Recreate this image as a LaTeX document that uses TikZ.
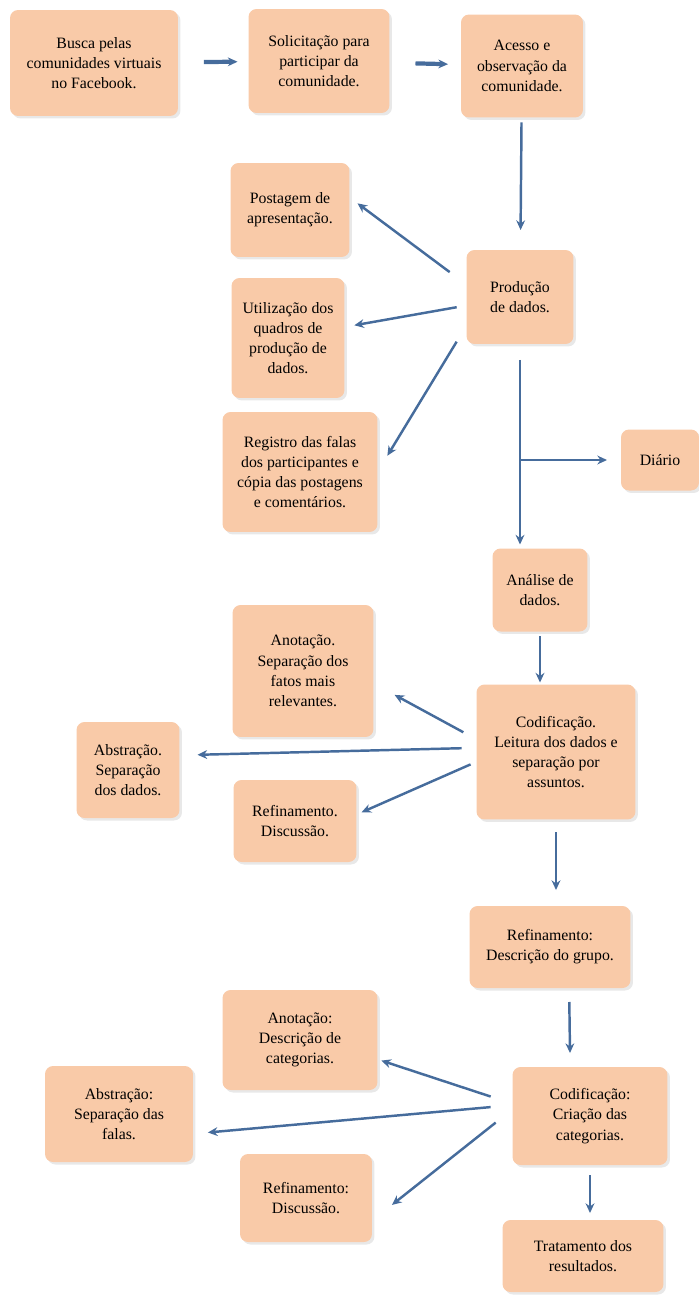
\documentclass[tikz,border=0pt]{standalone}
\usepackage{fontspec}
\setmainfont{Liberation Serif}
\usetikzlibrary{arrows.meta,shadows}
\definecolor{boxfill}{RGB}{249,202,168}
\definecolor{linkblue}{RGB}{70,108,156}
\begin{document}
\begin{tikzpicture}[x=0.02cm,y=-0.02cm,
  stage/.style={fill=boxfill, rounded corners=0.16cm, align=center, outer sep=0pt, inner sep=2pt,
    font=\fontsize{9}{11.5}\selectfont,
    drop shadow={opacity=0.18, shadow xshift=0.05cm, shadow yshift=-0.05cm}},
  link/.style={draw=linkblue, line width=1.4pt, -{Stealth[length=5.5pt,width=5pt]}},
  biglink/.style={link, line width=2.4pt}]
\useasboundingbox (0,0) rectangle (699,1298);
\node[stage, minimum width=3.36cm, minimum height=2.12cm] (st1) at (94,63){Busca pelas\\comunidades virtuais\\no Facebook.};
\node[stage, minimum width=2.82cm, minimum height=2.08cm] (st2) at (319,61){Solicitação para\\participar da\\comunidade.};
\draw[biglink, shorten <=0.52cm, shorten >=0.22cm](st1) -- (st2);
\node[stage, minimum width=2.44cm, minimum height=2.06cm] (st3) at (522,66){Acesso e\\observação da\\comunidade.};
\draw[biglink, shorten <=0.52cm, shorten >=0.26cm](st2) -- (st3);
\node[stage, minimum width=2.14cm, minimum height=1.88cm] (st5) at (520,297){Produção\\de dados.};
\draw[link, shorten <=0.1cm, shorten >=0.4cm](st3) -- (st5);
\node[stage, minimum width=2.38cm, minimum height=1.88cm] (st4) at (290,210){Postagem de\\apresentação.};
\node[stage, minimum width=2.26cm, minimum height=2.40cm] (st6) at (288,338){Utilização dos\\quadros de\\produção de\\dados.};
\node[stage, minimum width=3.10cm, minimum height=2.40cm] (st7) at (300,472){Registro das falas\\dos participantes e\\cópia das postagens\\e comentários.};
\draw[link, shorten <=0.42cm, shorten >=0.2cm](st5.167) -- (st4.12);
\draw[link, shorten <=0.2cm, shorten >=0.2cm](st5.189) -- (st6.11);
\draw[link, shorten <=0.38cm, shorten >=0.38cm](st5.208) -- (st7.east);
\node[stage, minimum width=1.56cm, minimum height=1.22cm] (st8) at (660,460){Diário};
\node[stage, minimum width=1.90cm, minimum height=1.66cm] (st9) at (540,590){Análise de\\dados.};
\draw[link, shorten <=0.32cm, shorten >=0.08cm](st5.south) -- (st5.south |- st9.north);
\draw[link, shorten >=0.28cm](st5.south |- st8.west) -- (st8.west);
\node[stage, minimum width=3.18cm, minimum height=2.70cm] (st11) at (556,752){Codificação.\\Leitura dos dados e\\separação por\\assuntos.};
\draw[link, shorten <=0.1cm, shorten >=0.04cm](st9.south) -- (st9.south |- st11.north);
\node[stage, minimum width=2.82cm, minimum height=2.64cm] (st10) at (303,671){Anotação.\\Separação dos\\fatos mais\\relevantes.};
\node[stage, minimum width=2.06cm, minimum height=1.92cm] (st12) at (128,770){Abstração.\\Separação\\dos dados.};
\node[stage, minimum width=2.46cm, minimum height=1.64cm] (st13) at (295,821){Refinamento.\\Discussão.};
\draw[link, shorten <=0.3cm, shorten >=0.48cm](st11.171) -- (st10.-10);
\draw[link, shorten <=0.3cm, shorten >=0.36cm](st11.177) -- (st12.16);
\draw[link, shorten <=0.13cm, shorten >=0.11cm](st11.187) -- (st13.6);
\node[stage, minimum width=3.22cm, minimum height=1.64cm] (st14) at (550,947){Refinamento:\\Descrição do grupo.};
\draw[link, shorten <=0.26cm, shorten >=0.32cm](st11.south) -- (st11.south |- st14.north);
\node[stage, minimum width=3.10cm, minimum height=1.96cm] (st17) at (590,1116){Codificação:\\Criação das\\categorias.};
\draw[link, shorten <=0.28cm, shorten >=0.28cm](st14.-65) -- (st17.112);
\node[stage, minimum width=3.10cm, minimum height=2.00cm] (st15) at (300,1040){Anotação:\\Descrição de\\categorias.};
\node[stage, minimum width=2.96cm, minimum height=1.92cm] (st16) at (119,1114){Abstração:\\Separação das\\falas.};
\node[stage, minimum width=2.64cm, minimum height=1.76cm] (st18) at (306,1198){Refinamento:\\Discussão.};
\draw[link, shorten <=0.46cm, shorten >=0.08cm](st17.171) -- (st15.-14);
\draw[link, shorten <=0.44cm, shorten >=0.3cm](st17.172) -- (st16.-15);
\draw[link, shorten <=0.43cm, shorten >=0.51cm](st17.175) -- (st18.-19);
\node[stage, minimum width=3.22cm, minimum height=1.44cm] (st19) at (583,1256){Tratamento dos\\resultados.};
\draw[link, shorten <=0.2cm, shorten >=0.14cm](st17.south) -- (st17.south |- st19.north);
\end{tikzpicture}
\end{document}
